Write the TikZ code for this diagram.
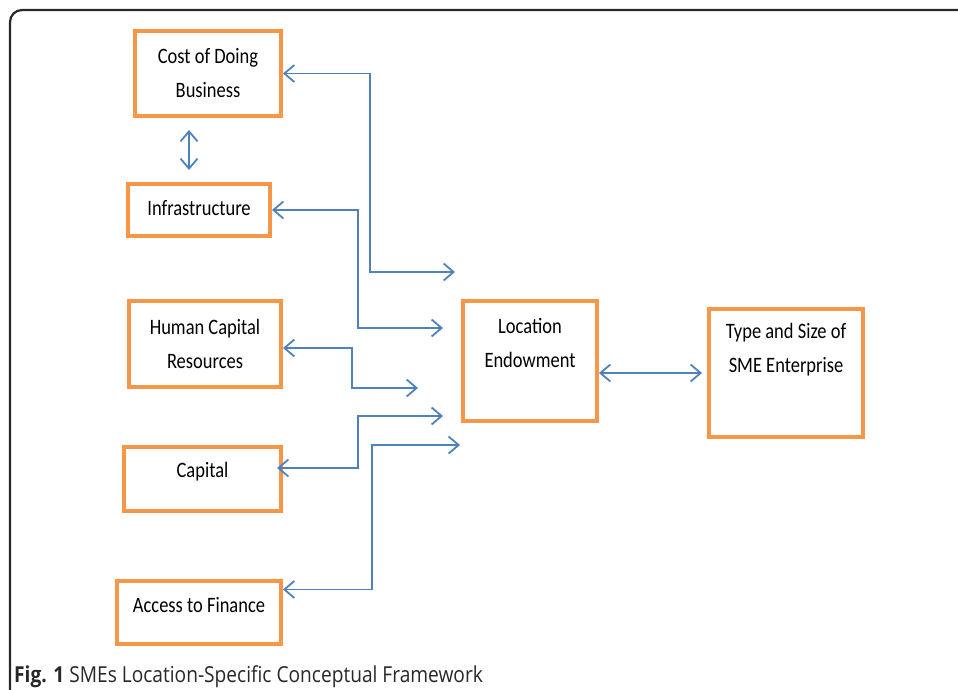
\documentclass[tikz,border=0pt]{standalone}
\usepackage{fontspec}
\setmainfont{Carlito}
\newfontfamily\boxfont[FakeStretch=0.84]{Carlito}
\newfontfamily\capfont[FakeStretch=0.87]{Open Sans}
\usetikzlibrary{arrows.meta}
\definecolor{boxorange}{RGB}{247,150,70}
\definecolor{linkblue}{RGB}{79,129,189}
\definecolor{framegray}{RGB}{40,40,40}

\begin{document}
\begin{tikzpicture}[x=1pt,y=-1pt,
  box/.style={draw=boxorange, line width=4pt, inner sep=0pt},
  txt/.style={font=\boxfont\fontsize{22}{34}\selectfont, align=center},
  link/.style={draw=linkblue, line width=1.8pt,
    {Straight Barb[length=10pt,width=17pt]}-{Straight Barb[length=10pt,width=17pt]}}]

\useasboundingbox (0,0) rectangle (958,690);

\draw[framegray, line width=2.2pt, rounded corners=12pt] (10,700) -- (10,10) -- (970,10);

\node[box, minimum width=146, minimum height=85] (cost) at (208,73.5) {};
\node[box, minimum width=142, minimum height=52] (infra) at (199,210) {};
\node[box, minimum width=152, minimum height=86] (human) at (205,344) {};
\node[box, minimum width=157, minimum height=64] (capital) at (202.5,479) {};
\node[box, minimum width=164, minimum height=63] (finance) at (199,612.5) {};
\node[box, minimum width=134, minimum height=120] (loc) at (530,361) {};
\node[box, minimum width=154, minimum height=128] (sme) at (786,373) {};

\node[txt] (costtxt) at (cost.center) {Cost of Doing\\Business};
\node[txt] (infratxt) at ([shift={(0,-2)}]infra.center) {Infrastructure};
\node[txt] (humantxt) at (human.center) {Human Capital\\Resources};
\node[txt] (capitaltxt) at ([shift={(0,-7)}]capital.center) {Capital};
\node[txt] (financetxt) at ([shift={(0,-7)}]finance.center) {Access to Finance};
\node[txt] (loctxt) at ([shift={(0,-18)}]loc.center) {Location\\Endowment};
\node[txt] (smetxt) at ([shift={(0,-23)}]sme.center) {Type and Size of\\SME Enterprise};

\coordinate (e1) at (455,272);
\coordinate (e2) at (443,328);
\coordinate (e3) at (418,388);
\coordinate (e4) at (443,416);
\coordinate (e5) at (460,445);
\coordinate (d1) at (189,130);
\coordinate (d2) at (189,170);

\draw[link] (cost.east) -| (370,272) -- (e1);
\draw[link] (infra.east) -| (358,328) -- (e2);
\draw[link] ([shift={(0,4)}]human.east) -| (352,388) -- (e3);
\draw[link] ([shift={(-6,-11)}]capital.east) -| (358,416) -- (e4);
\draw[link] ([shift={(0,-23)}]finance.east) -| (372,445) -- (e5);
\draw[link] (d1) -- (d2);
\draw[link] (loc.east |- sme.west) -- ([shift={(-5,0)}]sme.west);

\node[anchor=base west, text=framegray, font=\capfont\fontsize{22}{26}\selectfont, inner sep=0pt]
  (caption) at (14,682) {\textbf{Fig. 1} SMEs Location-Specific Conceptual Framework};

\end{tikzpicture}
\end{document}
